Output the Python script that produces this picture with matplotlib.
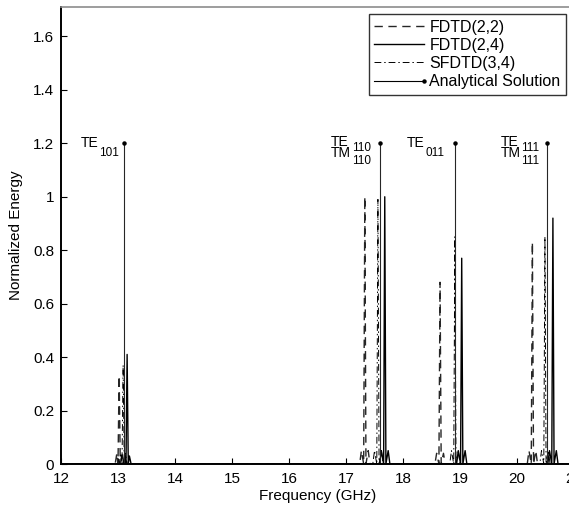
import matplotlib
matplotlib.use("Agg")
import matplotlib.pyplot as plt
from matplotlib.lines import Line2D
from matplotlib.legend_handler import HandlerBase
from matplotlib.ticker import FuncFormatter

plt.rcParams['font.family'] = ['Liberation Sans', 'DejaVu Sans']

# ---- data ----
fdtd22_f = [12.0, 12.95, 12.98, 13.00, 13.02, 13.04, 13.07, 13.10,
            17.24, 17.27, 17.31, 17.33, 17.35, 17.39, 17.42,
            18.56, 18.59, 18.63, 18.65, 18.67, 18.71, 18.74,
            20.18, 20.21, 20.25, 20.27, 20.29, 20.33, 20.36, 21.2]
fdtd22_e = [0, 0, 0.04, 0, 0.33, 0, 0.04, 0,
            0, 0.05, 0, 1.00, 0, 0.05, 0,
            0, 0.04, 0, 0.68, 0, 0.04, 0,
            0, 0.05, 0, 0.83, 0, 0.05, 0, 0]

fdtd24_f = [12.0, 13.09, 13.12, 13.14, 13.16, 13.18, 13.20, 13.23,
            17.59, 17.62, 17.66, 17.68, 17.70, 17.74, 17.77,
            18.94, 18.97, 19.01, 19.03, 19.05, 19.09, 19.12,
            20.54, 20.57, 20.61, 20.63, 20.65, 20.69, 20.72, 21.2]
fdtd24_e = [0, 0, 0.03, 0, 0.41, 0, 0.03, 0,
            0, 0.05, 0, 1.00, 0, 0.05, 0,
            0, 0.05, 0, 0.77, 0, 0.05, 0,
            0, 0.05, 0, 0.92, 0, 0.05, 0, 0]

sfdtd34_f = [12.0, 13.02, 13.05, 13.07, 13.09, 13.11, 13.13, 13.16,
             17.47, 17.50, 17.54, 17.56, 17.58, 17.62, 17.65,
             18.82, 18.85, 18.89, 18.91, 18.93, 18.97, 19.00,
             20.40, 20.43, 20.47, 20.49, 20.51, 20.55, 20.58, 21.2]
sfdtd34_e = [0, 0, 0.04, 0, 0.37, 0, 0.04, 0,
             0, 0.05, 0, 0.99, 0, 0.05, 0,
             0, 0.05, 0, 0.85, 0, 0.05, 0,
             0, 0.05, 0, 0.85, 0, 0.05, 0, 0]

analytical_f = [13.10, 17.60, 18.92, 20.52]
analytical_e = [1.2, 1.2, 1.2, 1.2]

# mode labels: (main, subscript) for line 1, optional line 2
mode_labels = [[("TE", "101")],
               [("TE", "110"), ("TM", "110")],
               [("TE", "011")],
               [("TE", "111"), ("TM", "111")]]
mode_label_x = [12.35, 16.74, 18.07, 19.72]

xticks = [12, 13, 14, 15, 16, 17, 18, 19, 20, 21]
yticks = [0, 0.2, 0.4, 0.6, 0.8, 1.0, 1.2, 1.4, 1.6]

# ---- figure ----
fig = plt.figure(figsize=(5.69, 5.12), dpi=100)
ax = fig.add_axes([61/569, 1 - 464/512, (574 - 61)/569, (464 - 7)/512])

l22, = ax.plot(fdtd22_f, fdtd22_e, color='0.15', lw=1.0, ls=(0, (6, 4)))
l24, = ax.plot(fdtd24_f, fdtd24_e, color='black', lw=1.0, ls='-')
l34, = ax.plot(sfdtd34_f, sfdtd34_e, color='black', lw=0.7, ls=(0, (7, 3, 1.5, 3)))
ax.vlines(analytical_f, 0, analytical_e, color='0.15', lw=0.8)
ax.plot(analytical_f, analytical_e, ls='none', marker='o', ms=2.2, color='black')

main_fs = 10
sub_fs = 8.5
base_y = 1.188
line_gap = 0.0385
for lines, x in zip(mode_labels, mode_label_x):
    if len(lines) == 1:
        m, s = lines[0]
        t = ax.text(x, base_y, m, ha='left', va='baseline', fontsize=main_fs)
        ax.annotate(s, xy=(1, 0), xycoords=t, xytext=(0.3, -4.4),
                    textcoords='offset points', ha='left', va='baseline',
                    fontsize=sub_fs)
    else:
        (m1, s1), (m2, s2) = lines
        t = ax.text(x, base_y - line_gap, m1 + "\n" + m2, ha='left',
                    va='baseline', fontsize=main_fs, linespacing=0.7,
                    multialignment='left')
        ax.annotate(s1, xy=(1, 0), xycoords=t, xytext=(0.3, 6.3),
                    textcoords='offset points', ha='left', va='baseline',
                    fontsize=sub_fs)
        ax.annotate(s2, xy=(1, 0), xycoords=t, xytext=(0.3, -3.1),
                    textcoords='offset points', ha='left', va='baseline',
                    fontsize=sub_fs)

ax.set_xlim(12, 21)
ax.set_ylim(0, 1.71)
ax.set_xticks(xticks)
ax.set_yticks(yticks)
fmt = FuncFormatter(lambda v, p: ('%g' % v))
ax.xaxis.set_major_formatter(fmt)
ax.yaxis.set_major_formatter(fmt)
ax.tick_params(direction='in', length=4, width=0.8, labelsize=11)
ax.tick_params(axis='x', pad=6)
ax.tick_params(axis='y', pad=5)
ax.set_xlabel('Frequency (GHz)', fontsize=11, labelpad=2)
ax.set_ylabel('Normalized Energy', fontsize=11, labelpad=7)

for s in ['left', 'bottom']:
    ax.spines[s].set_linewidth(1.4)
    ax.spines[s].set_color('black')
ax.spines['top'].set_color('0.55')
ax.spines['top'].set_linewidth(1.2)


class HandlerDotEnd(HandlerBase):
    def create_artists(self, legend, orig_handle, xdescent, ydescent,
                       width, height, fontsize, trans):
        y = height / 2 - ydescent
        line = Line2D([-xdescent, width - xdescent], [y, y], color='black', lw=0.8)
        dot = Line2D([width - xdescent], [y], marker='o', ms=2.2, color='black')
        line.set_transform(trans)
        dot.set_transform(trans)
        return [line, dot]


ana_handle = Line2D([], [], color='black')
leg = fig.legend([l22, l24, l34, ana_handle],
                 ['FDTD(2,2)', 'FDTD(2,4)', 'SFDTD(3,4)', 'Analytical Solution'],
                 loc='upper right', bbox_to_anchor=(566/569, 1 - 14/512),
                 fontsize=11.5, frameon=True, fancybox=False, handlelength=3.1,
                 handletextpad=0.35, labelspacing=0.2, borderpad=0.35,
                 borderaxespad=0, handler_map={ana_handle: HandlerDotEnd()})
leg.get_frame().set_edgecolor('black')
leg.get_frame().set_linewidth(1.0)

fig.savefig('out.png', dpi=100)
